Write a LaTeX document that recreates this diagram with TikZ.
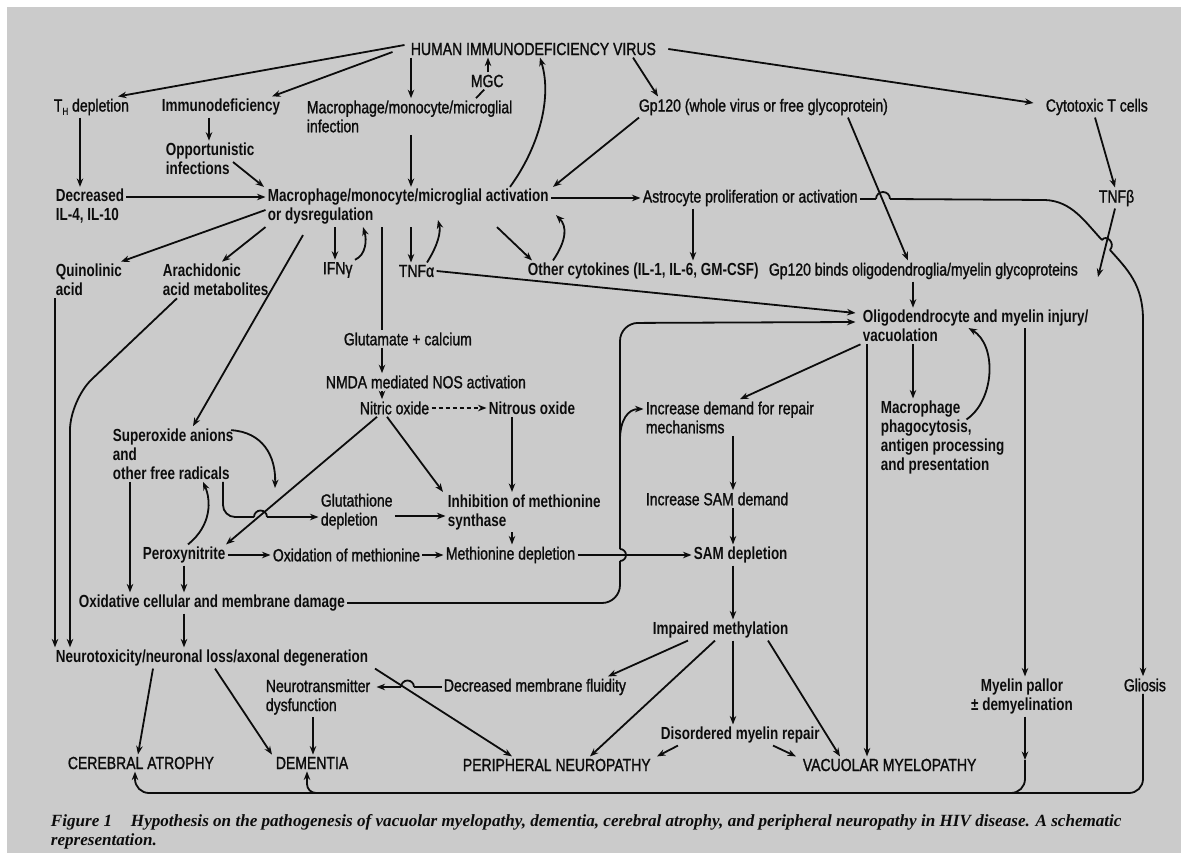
\documentclass[tikz,border=0pt]{standalone}
\usepackage{fontspec}
\setmainfont{Liberation Sans}[UprightFeatures={FakeStretch=0.80,FakeBold=1.2},BoldFeatures={FakeStretch=0.77}]
\newfontfamily\capfont{Liberation Serif}
\usetikzlibrary{arrows.meta,calc}
\definecolor{bg}{HTML}{CBCBCB}
\definecolor{ink}{HTML}{0C0C0C}
\newcommand{\lf}{\fontsize{17.5}{19}\selectfont}
\begin{document}
\begin{tikzpicture}[x=1pt,y=-1pt,line width=1.8pt,color=ink,
  lbl/.style={anchor=west,inner sep=1.5pt,align=left,font=\lf},
  bl/.style={lbl,font=\lf\bfseries},
  arr/.style={-{Stealth[length=8.5pt,width=6.5pt]}}]
\useasboundingbox (0,0) rectangle (1181,853);
\fill[white] (0,0) rectangle (1181,853);
\fill[bg] (7,7) rectangle (1181,853);
% nodes
\node[lbl] (hiv) at (408.5,49) {HUMAN IMMUNODEFICIENCY VIRUS};
\node[lbl] (mgc) at (468.5,81) {MGC};
\node[lbl] (th) at (51.5,107) {T\raisebox{-0.35ex}{\fontsize{10}{10}\selectfont H} depletion};
\node[bl] (imm) at (159.5,107) {Immunodeficiency};
\node[lbl] (minf) at (304.5,116.5) {Macrophage/monocyte/microglial\\infection};
\node[lbl] (gp) at (636.5,107) {Gp120 (whole virus or free glycoprotein)};
\node[lbl] (ctc) at (1043.5,107) {Cytotoxic T cells};
\node[bl] (opp) at (163.5,159) {Opportunistic\\infections};
\node[bl] (dec) at (53.5,206.5) {Decreased\\IL-4, IL-10};
\node[bl] (act) at (265.5,207) {Macrophage/monocyte/microglial activation\\or dysregulation};
\node[lbl] (astro) at (640.5,198) {Astrocyte proliferation or activation};
\node[lbl] (tnfb) at (1096.5,198) {TNFβ};
\node[bl] (quin) at (53.5,280) {Quinolinic\\acid};
\node[bl] (arach) at (160.5,280) {Arachidonic\\acid metabolites};
\node[lbl] (ifn) at (320.5,270) {IFNγ};
\node[lbl] (tnfa) at (396.5,271) {TNFα};
\node[bl] (other) at (525.5,271) {Other cytokines (IL-1, IL-6, GM-CSF)};
\node[lbl] (binds) at (766.5,271) {Gp120 binds oligodendroglia/myelin glycoproteins};
\node[bl] (oligo) at (860.5,326) {Oligodendrocyte and myelin injury/\\vacuolation};
\node[lbl] (glu) at (341.5,339) {Glutamate + calcium};
\node[lbl] (nmda) at (323.5,382) {NMDA mediated NOS activation};
\node[lbl] (no) at (357.5,408) {Nitric oxide};
\node[bl] (n2o) at (486.5,408) {Nitrous oxide};
\node[lbl] (incdem) at (643.5,417.5) {Increase demand for repair\\mechanisms};
\node[bl] (phag) at (878.5,437.5) {Macrophage\\phagocytosis,\\antigen processing\\and presentation};
\node[bl] (sup) at (110.5,454) {Superoxide anions\\and\\other free radicals};
\node[lbl] (glut) at (318.5,511.5) {Glutathione\\depletion};
\node[bl] (inhib) at (445.5,512) {Inhibition of methionine\\synthase};
\node[lbl] (incsam) at (643.5,499) {Increase SAM demand};
\node[bl] (perox) at (140.5,555) {Peroxynitrite};
\node[lbl] (oxm) at (270.5,555) {Oxidation of methionine};
\node[lbl] (metd) at (443.5,555) {Methionine depletion};
\node[bl] (samd) at (691.5,555) {SAM depletion};
\node[bl] (oxd) at (76.5,603) {Oxidative cellular and membrane damage};
\node[bl] (imp) at (650.5,630) {Impaired methylation};
\node[bl] (neuro) at (53.5,658) {Neurotoxicity/neuronal loss/axonal degeneration};
\node[lbl] (ntd) at (263.5,697) {Neurotransmitter\\dysfunction};
\node[lbl] (fluid) at (441.5,687) {Decreased membrane fluidity};
\node[bl,anchor=center,align=center] (myel) at (1022,696.5) {Myelin pallor\\± demyelination};
\node[lbl] (glio) at (1121.5,685) {Gliosis};
\node[bl] (dis) at (658.5,735) {Disordered myelin repair};
\node[lbl] (ca) at (65.5,763) {CEREBRAL ATROPHY};
\node[lbl] (dem) at (273.5,763) {DEMENTIA};
\node[lbl] (pn) at (460.5,765) {PERIPHERAL NEUROPATHY};
\node[lbl] (vm) at (800.5,765) {VACUOLAR MYELOPATHY};
\node[anchor=west,inner sep=0pt,align=left,font=\capfont\fontsize{17.1}{19}\selectfont\bfseries\itshape] (cap) at (50,831.5) {Figure 1\hspace{1.1em}Hypothesis on the pathogenesis of vacuolar myelopathy, dementia, cerebral atrophy, and peripheral neuropathy in HIV disease. A schematic\\representation.};
% named bend points
\coordinate (supend) at (275,488);
\coordinate (lpA) at (620,603);
\coordinate (lpB) at (620,561);
\coordinate (lpC) at (620,549);
\coordinate (lpD) at (620,323);
\coordinate (mj) at (1025,760);
% HIV
\draw[arr] ([xshift=-4pt,yshift=4pt]hiv.west) -- (th.north -| 118,0);
\draw[arr] ([xshift=-16pt,yshift=-3pt]hiv.west) -- (imm.north -| 272,0);
\draw[arr] (hiv.south -| 411,0) -- (minf.north -| 411,0);
\draw[arr] (mgc.north -| 488,0) -- (hiv.south -| 488,0);
\draw (minf.north -| 476,0) -- ([xshift=-3pt]mgc.south);
\draw[arr] (act.north -| 510,0) .. controls (537,150) and (553,100) .. (hiv.south -| 540,0);
\draw[arr] (hiv.south -| 633,0) -- (gp.north -| 658,0);
\draw[arr] ([xshift=10pt]hiv.east) -- ([xshift=-10pt,yshift=4pt]ctc.west);
% left upper
\draw[arr] (th.south -| 80,0) -- (dec.north -| 80,0);
\draw[arr] (imm.south -| 209,0) -- (opp.north -| 209,0);
\draw[arr] ($(opp.east -| 233,0)+(0,3)$) -- (act.north -| 264,0);
\draw[arr] (dec.east |- 0,197) -- (act.west |- 0,197);
\draw[arr] (minf.south -| 411,0) -- (act.north -| 411,0);
\draw[arr] (gp.south -| 639,0) -- (act.north -| 553,0);
\draw[arr] (gp.south -| 848,0) -- (binds.north -| 908,0);
\draw[arr] (act.east |- 0,198) -- (astro.west |- 0,198);
\draw[arr] (astro.south -| 693,0) -- (other.north -| 693,0);
\draw[arr] (act.south -| 497,0) -- (other.north -| 532,0);
\draw[arr] (other.north -| 553,0) .. controls (567,240) and (567,226) .. ($(act.south -| 556,0)+(0,-12)$);
\draw[arr] (act.south -| 335,0) -- (ifn.north -| 335,0);
\draw[arr] (ifn.north -| 355,0) .. controls (366,255) and (367,240) .. (act.south -| 363,0);
\draw[arr] (act.south -| 411,0) -- (tnfa.north -| 411,0);
\draw[arr] (tnfa.north -| 427,0) .. controls (438,245) and (441,232) .. ($(act.south -| 438,0)+(0,-7)$);
\draw[arr] (tnfa.east) -- ($(oligo.west)+(-5,-13)$);
% oxidative loop
\draw[rounded corners=18pt] (oxd.east) -- (lpA) -- (lpB);
\draw (lpB) arc[start angle=-90,end angle=90,radius=6pt];
\draw[arr,rounded corners=18pt] (lpC) -- (lpD) -- ($(oligo.west)+(-5,-4)$);
\draw[arr] (620,440) .. controls (620,420) and (628,409) .. (incdem.west |- 0,409);
% right side
\draw[arr] (oligo.south west) -- (incdem.north -| 740,0);
\draw[arr] (incdem.south -| 733,0) -- (incsam.north -| 733,0);
\draw[arr] (incsam.south -| 733,0) -- (samd.north -| 733,0);
\draw[arr] (samd.south -| 733,0) -- (imp.north -| 733,0);
\draw[arr] (metd.east) -- (samd.west);
\draw[arr] (oligo.south -| 867,0) -- (vm.north -| 867,0);
\draw[arr] (oligo.south -| 913,0) -- (phag.north -| 913,0);
\draw[arr] ($(phag.north west)+(88,21)$) .. controls (995,400) and (997,345) .. ($(oligo.west)+(108,2)$);
\draw[arr] (binds.south -| 913,0) -- (oligo.north -| 913,0);
\draw[arr] ($(oligo.west -| 1025,0)+(0,2)$) -- (myel.north -| 1025,0);
\draw[arr] (myel.south -| 1025,0) -- (mj);
\draw[rounded corners=14pt] (mj) -- (1025,793) -- (990,793);
\draw[arr,rounded corners=14pt] (glio.south -| 1143,0) -- (1143,793) -- (135,793) -- (ca.south -| 135,0);
\draw[arr,rounded corners=9pt] (325,793) -- (307,793) -- (dem.south -| 307,0);
\draw (astro.east |- 0,199) -- (876,199);
\draw (876,199) arc[start angle=180,end angle=0,radius=7pt];
\draw (890,199) -- (1045,200) .. controls (1072,201) and (1085,222) .. (1102,240);
\draw (1102,240) .. controls (1106,234) and (1116,243) .. (1110,250);
\draw[arr] (1110,250) .. controls (1128,270) and (1143,285) .. (1143,320) -- (glio.north -| 1143,0);
\draw[arr] (ctc.south -| 1095,0) -- (tnfb.north -| 1115,0);
\draw[arr] (tnfb.south -| 1115,0) -- ($(binds.west -| 1098,0)+(0,6)$);
% NO pathway
\draw (act.south -| 382,0) -- (glu.north -| 382,0);
\draw[arr] (glu.south -| 382,0) -- (nmda.north -| 382,0);
\draw[arr] (nmda.south -| 382,0) -- (no.north -| 382,0);
\draw[arr,dash pattern=on 4pt off 3pt] (no.east) -- (n2o.west);
\draw[arr] (n2o.south -| 512,0) -- (inhib.north -| 512,0);
\draw[arr] (no.south -| 387,0) -- (inhib.north -| 443,0);
\draw[arr] (no.south -| 377,0) -- (perox.north -| 226,0);
\draw[arr] ($(sup.north -| 231,0)+(0,4)$) .. controls (262,432) and (276,455) .. (supend);
\draw[rounded corners=12pt] (sup.south -| 223,0) -- (223,517) -- (254,517);
\draw (254,517) arc[start angle=180,end angle=0,radius=6.5pt];
\draw[arr] (267,517) -- (glut.west |- 0,517);
\draw[arr] (perox.north -| 188,0) .. controls (212,525) and (211,500) .. (sup.south -| 203,0);
\draw[arr] (perox.east) -- (oxm.west);
\draw[arr] (oxm.east) -- (metd.west);
\draw[arr] (glut.east |- 0,516) -- (inhib.west |- 0,516);
\draw[arr] (inhib.south -| 512,0) -- (metd.north -| 512,0);
\draw[arr] (sup.south -| 130,0) -- (oxd.north -| 130,0);
\draw[arr] (perox.south -| 184,0) -- (oxd.north -| 184,0);
\draw[arr] (oxd.south -| 184,0) -- (neuro.north -| 184,0);
\draw[arr] (quin.south -| 55,0) -- (neuro.north -| 55,0);
\draw[arr,rounded corners=30pt] (arach.south -| 177,0) -- (70,400) -- (neuro.north -| 70,0);
\draw[arr] ($(act.west)+(0,3)$) -- (quin.north -| 121,0);
\draw[arr] (act.south west) -- (arach.north -| 222,0);
\draw[arr] ($(act.south -| 303,0)+(0,8)$) -- (sup.north -| 193,0);
% bottom
\draw[arr] (neuro.south -| 153,0) -- (ca.north -| 138,0);
\draw[arr] (neuro.south -| 215,0) -- (dem.north -| 272,0);
\draw[arr] (neuro.south -| 375,0) -- (pn.north -| 512,0);
\draw (fluid.west |- 0,687) -- (414,687);
\draw (414,687) arc[start angle=0,end angle=180,radius=6.5pt];
\draw[arr] (401,687) -- ($(ntd.east |- 0,687)+(4,0)$);
\draw[arr] (ntd.south -| 313,0) -- (dem.north -| 313,0);
\draw[arr] (imp.south -| 688,0) -- (fluid.north -| 608,0);
\draw[arr] (imp.south -| 715,0) -- (pn.north -| 590,0);
\draw[arr] (imp.south -| 733,0) -- (dis.north -| 733,0);
\draw[arr] (imp.south -| 768,0) -- (vm.north -| 840,0);
\draw[arr] (dis.south -| 678,0) -- (pn.north -| 657,0);
\draw[arr] (dis.south -| 773,0) -- (vm.north -| 796,0);
\end{tikzpicture}
\end{document}
